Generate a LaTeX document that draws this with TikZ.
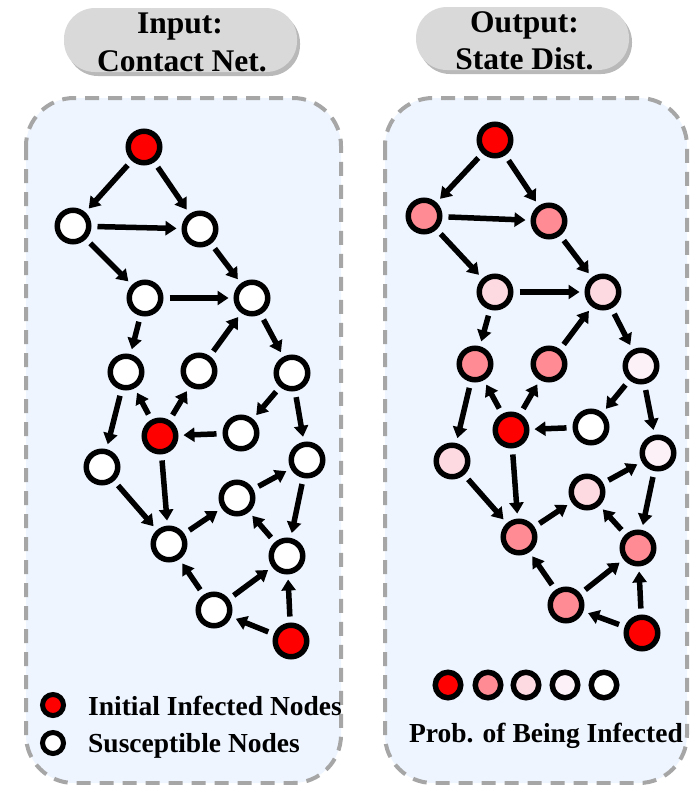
\documentclass[tikz,border=0pt]{standalone}
\usepackage{fontspec}
\setmainfont{Liberation Serif}
\usetikzlibrary{arrows.meta,shadows}
\definecolor{infred}{HTML}{FF0000}
\definecolor{medpink}{HTML}{FF8C94}
\definecolor{litpink}{HTML}{FDD9E1}
\definecolor{vlitpink}{HTML}{FDF1F8}
\definecolor{panelfill}{HTML}{EEF5FF}
\definecolor{panelline}{HTML}{A6A6A6}
\definecolor{pillfill}{HTML}{D9D9D9}
\tikzset{
  gnode/.style={circle, draw=black, line width=5.5pt, minimum size=31.5pt, inner sep=0pt},
  edge/.style={line width=5.5pt, -{Triangle[length=11pt,width=14pt]}, shorten >=5pt, shorten <=6pt},
  panel/.style={draw=panelline, fill=panelfill, line width=4pt, dash pattern=on 14pt off 9pt, rounded corners=48pt},
  pill/.style={fill=pillfill, rounded corners=31pt, inner sep=0pt, drop shadow={shadow xshift=3pt, shadow yshift=-4pt, fill=black!50, opacity=0.55}},
  headtxt/.style={font=\fontsize{31.5}{38}\selectfont\bfseries, anchor=base, inner sep=0pt},
  legtxt/.style={font=\fontsize{27.5}{33}\selectfont\bfseries, inner sep=0pt},
  legl/.style={circle, draw=black, line width=5pt, minimum size=21pt, inner sep=0pt},
  legr/.style={circle, draw=black, line width=5.5pt, minimum size=25.5pt, inner sep=0pt},
}
\begin{document}
\begin{tikzpicture}[x=1pt,y=-1pt]
\useasboundingbox (0,0) rectangle (692,785);
% panels
\draw[panel] (26,98) rectangle (341,783);
\draw[panel] (385,98) rectangle (687,783);
% header pills
\node[pill, minimum width=233pt, minimum height=64pt] (pillL) at (180.5,40) {};
\node[pill, minimum width=213pt, minimum height=63pt] (pillR) at (522.5,38.5) {};
\node[headtxt] (hL1) at (180,33) {Input:};
\node[headtxt] (hL2) at (182,71) {Contact Net.};
\node[headtxt] (hR1) at (524.5,32) {Output:};
\node[headtxt] (hR2) at (524.5,69) {State Dist.};
% left graph
\node[gnode, fill=infred] (A) at (144,147) {};
\node[gnode, fill=white] (B) at (73,226) {};
\node[gnode, fill=white] (C) at (200,229) {};
\node[gnode, fill=white] (D) at (145,298) {};
\node[gnode, fill=white] (E) at (252,298) {};
\node[gnode, fill=white] (F) at (126,372) {};
\node[gnode, fill=white] (G) at (199,371) {};
\node[gnode, fill=white] (H) at (292,373) {};
\node[gnode, fill=infred] (I) at (160,436) {};
\node[gnode, fill=white] (J) at (241,433) {};
\node[gnode, fill=white] (K) at (102,467) {};
\node[gnode, fill=white] (L) at (307,460) {};
\node[gnode, fill=white] (M) at (237,498) {};
\node[gnode, fill=white] (N) at (169,544) {};
\node[gnode, fill=white] (O) at (287,556) {};
\node[gnode, fill=white] (P) at (214,610) {};
\node[gnode, fill=infred] (Q) at (291,641) {};
% right graph
\node[gnode, fill=infred] (A2) at (495,140) {};
\node[gnode, fill=medpink] (B2) at (424,216) {};
\node[gnode, fill=medpink] (C2) at (549,221) {};
\node[gnode, fill=litpink] (D2) at (495,292) {};
\node[gnode, fill=litpink] (E2) at (603,292) {};
\node[gnode, fill=medpink] (F2) at (475,364) {};
\node[gnode, fill=medpink] (G2) at (549,364) {};
\node[gnode, fill=vlitpink] (H2) at (641,366) {};
\node[gnode, fill=infred] (I2) at (511,430) {};
\node[gnode, fill=white] (J2) at (591,427) {};
\node[gnode, fill=litpink] (K2) at (452,461) {};
\node[gnode, fill=vlitpink] (L2) at (658,453) {};
\node[gnode, fill=litpink] (M2) at (587,492) {};
\node[gnode, fill=medpink] (N2) at (519,537) {};
\node[gnode, fill=medpink] (O2) at (638,548) {};
\node[gnode, fill=medpink] (P2) at (566,605) {};
\node[gnode, fill=infred] (Q2) at (642,633) {};
% edges
\foreach \s in {,2}{
  \draw[edge] (A\s) -- (B\s);
  \draw[edge] (A\s) -- (C\s);
  \draw[edge] (B\s) -- (C\s);
  \draw[edge] (B\s) -- (D\s);
  \draw[edge] (C\s) -- (E\s);
  \draw[edge] (D\s) -- (E\s);
  \draw[edge] (D\s) -- (F\s);
  \draw[edge] (G\s) -- (E\s);
  \draw[edge] (E\s) -- (H\s);
  \draw[edge] (I\s) -- (F\s);
  \draw[edge] (I\s) -- (G\s);
  \draw[edge] (H\s) -- (J\s);
  \draw[edge] (J\s) -- (I\s);
  \draw[edge] (F\s) -- (K\s);
  \draw[edge] (H\s) -- (L\s);
  \draw[edge] (I\s) -- (N\s);
  \draw[edge] (K\s) -- (N\s);
  \draw[edge] (N\s) -- (M\s);
  \draw[edge] (M\s) -- (L\s);
  \draw[edge] (L\s) -- (O\s);
  \draw[edge] (O\s) -- (M\s);
  \draw[edge] (P\s) -- (N\s);
  \draw[edge] (P\s) -- (O\s);
  \draw[edge] (Q\s) -- (P\s);
  \draw[edge] (Q\s) -- (O\s);
}
% left legend
\node[legl, fill=infred] (lg1) at (53,705) {};
\node[legl, fill=white] (lg2) at (53,743) {};
\node[legtxt, anchor=base west] (lt1) at (88,715) {Initial Infected Nodes};
\node[legtxt, anchor=base west] (lt2) at (88,752) {Susceptible Nodes};
% right legend
\node[legr, fill=infred] (rg1) at (448,685) {};
\node[legr, fill=medpink] (rg2) at (488,685) {};
\node[legr, fill=litpink] (rg3) at (526,685) {};
\node[legr, fill=vlitpink] (rg4) at (565,685) {};
\node[legr, fill=white] (rg5) at (604,685) {};
\node[legtxt, anchor=base] (rt) at (546,742) {Prob. of Being Infected};
\end{tikzpicture}
\end{document}
